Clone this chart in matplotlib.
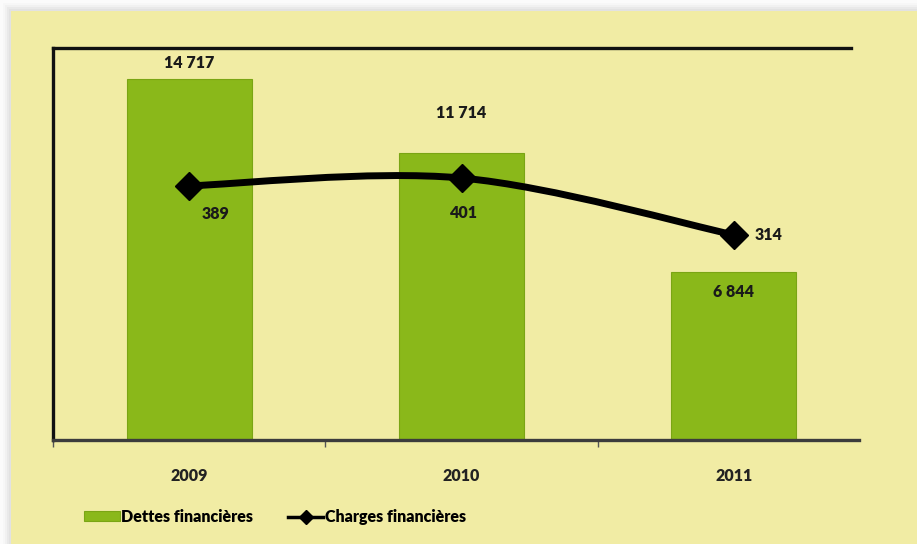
import numpy as np
import matplotlib.pyplot as plt
from matplotlib.patches import Rectangle
from matplotlib.path import Path
from matplotlib.patches import PathPatch

plt.rcParams['font.family'] = ['Lato', 'DejaVu Sans']

# Data
years = ['2009', '2010', '2011']
dettes = [14717, 11714, 6844]
charges = [389, 401, 314]
dettes_labels = ['14 717', '11 714', '6 844']
charges_labels = ['389', '401', '314']

yellow = '#f1eca4'
green = '#8ab81a'

fig = plt.figure(figsize=(9.17, 5.44), dpi=100)
fig.patch.set_facecolor('#fbfbfb')

# panel with a soft shadow
for i, a in enumerate([0.10, 0.08, 0.06, 0.04]):
    d = (i + 1) * 2
    fig.patches.append(Rectangle(((11 - d) / 917, 0), 1, 1 - (11 - d) / 544,
                                 transform=fig.transFigure, facecolor='#9a9a9a',
                                 alpha=a, edgecolor='none', zorder=-3))
fig.patches.append(Rectangle((11 / 917, 0), 1, 1 - 11 / 544, transform=fig.transFigure,
                             facecolor=yellow, edgecolor='none', zorder=-2))

ax = fig.add_axes([53 / 917, 1 - 440 / 544, (870 - 53) / 917, (440 - 48) / 544])
ax.set_facecolor('none')
x = np.arange(len(years))
bars = ax.bar(x, dettes, width=0.46, color=green, edgecolor='#7aa514', linewidth=0.8, zorder=2)
ax.set_xlim(-0.5, 2.5)
ax.set_ylim(0, 16000)
ax.set_yticks([])
ax.set_xticks([-0.5, 0.5, 1.5])
ax.set_xticklabels([])
ax.set_xticks(x, minor=True)
ax.set_xticklabels(years, minor=True, fontsize=11.5, fontweight='heavy', color='#222222')
ax.tick_params(axis='x', which='major', length=5, width=1, color='#555555')
ax.tick_params(axis='x', which='minor', length=0, pad=20)

for s in ['top', 'left']:
    ax.spines[s].set_linewidth(2.4)
    ax.spines[s].set_color('#111111')
ax.spines['bottom'].set_linewidth(2.4)
ax.spines['bottom'].set_color('#3c3c3c')
ax.spines['top'].set_bounds(-0.5, 2.43)
ax.spines['bottom'].set_bounds(-0.5, 2.46)
ax.spines['right'].set_visible(False)

bar_offsets = [(0, 16), (0, 40), (0, -20)]
for xi, v, lab, off in zip(x, dettes, dettes_labels, bar_offsets):
    ax.annotate(lab, (xi, v), xytext=off, textcoords='offset pixels',
                ha='center', va='center', fontsize=11.5, fontweight='heavy', color='#1a1a1a')

# line on secondary axis
ax2 = ax.twinx()
ax2.set_ylim(0, 600)
ax2.set_yticks([])
for s in ax2.spines.values():
    s.set_visible(False)

# smoothed curve (Catmull-Rom style bezier through the points)
pts = np.column_stack([x, charges]).astype(float)
ext = np.vstack([pts[0], pts, pts[-1]])
verts = [pts[0]]
codes = [Path.MOVETO]
for i in range(len(pts) - 1):
    p0, p1, p2, p3 = ext[i], ext[i + 1], ext[i + 2], ext[i + 3]
    verts += [p1 + (p2 - p0) / 6, p2 - (p3 - p1) / 6, p2]
    codes += [Path.CURVE4] * 3
ax2.add_patch(PathPatch(Path(verts, codes), facecolor='none', edgecolor='black',
                        linewidth=5, capstyle='round', zorder=3))
ax2.plot(x, charges, linestyle='none', marker='D', markersize=14, color='black', zorder=4)

line_offsets = [(26, -28), (2, -35), (35, 0)]
for xi, v, lab, off in zip(x, charges, charges_labels, line_offsets):
    ax2.annotate(lab, (xi, v), xytext=off, textcoords='offset pixels',
                 ha='center', va='center', fontsize=11.5, fontweight='heavy', color='#1a1a1a')

# legend
leg_h = [bars, plt.Line2D([], [], color='black', lw=2.5, marker='D', markersize=7)]
fig.legend(leg_h, ['Dettes financières', 'Charges financières'], loc='center left',
           bbox_to_anchor=(70 / 917, 1 - 517 / 544), ncol=2, frameon=False,
           handlelength=2.2, handleheight=0.6, handletextpad=0.1, columnspacing=2.2,
           prop={'weight': 'heavy', 'size': 11.5})

fig.savefig('out.png', dpi=100, facecolor=fig.get_facecolor())
